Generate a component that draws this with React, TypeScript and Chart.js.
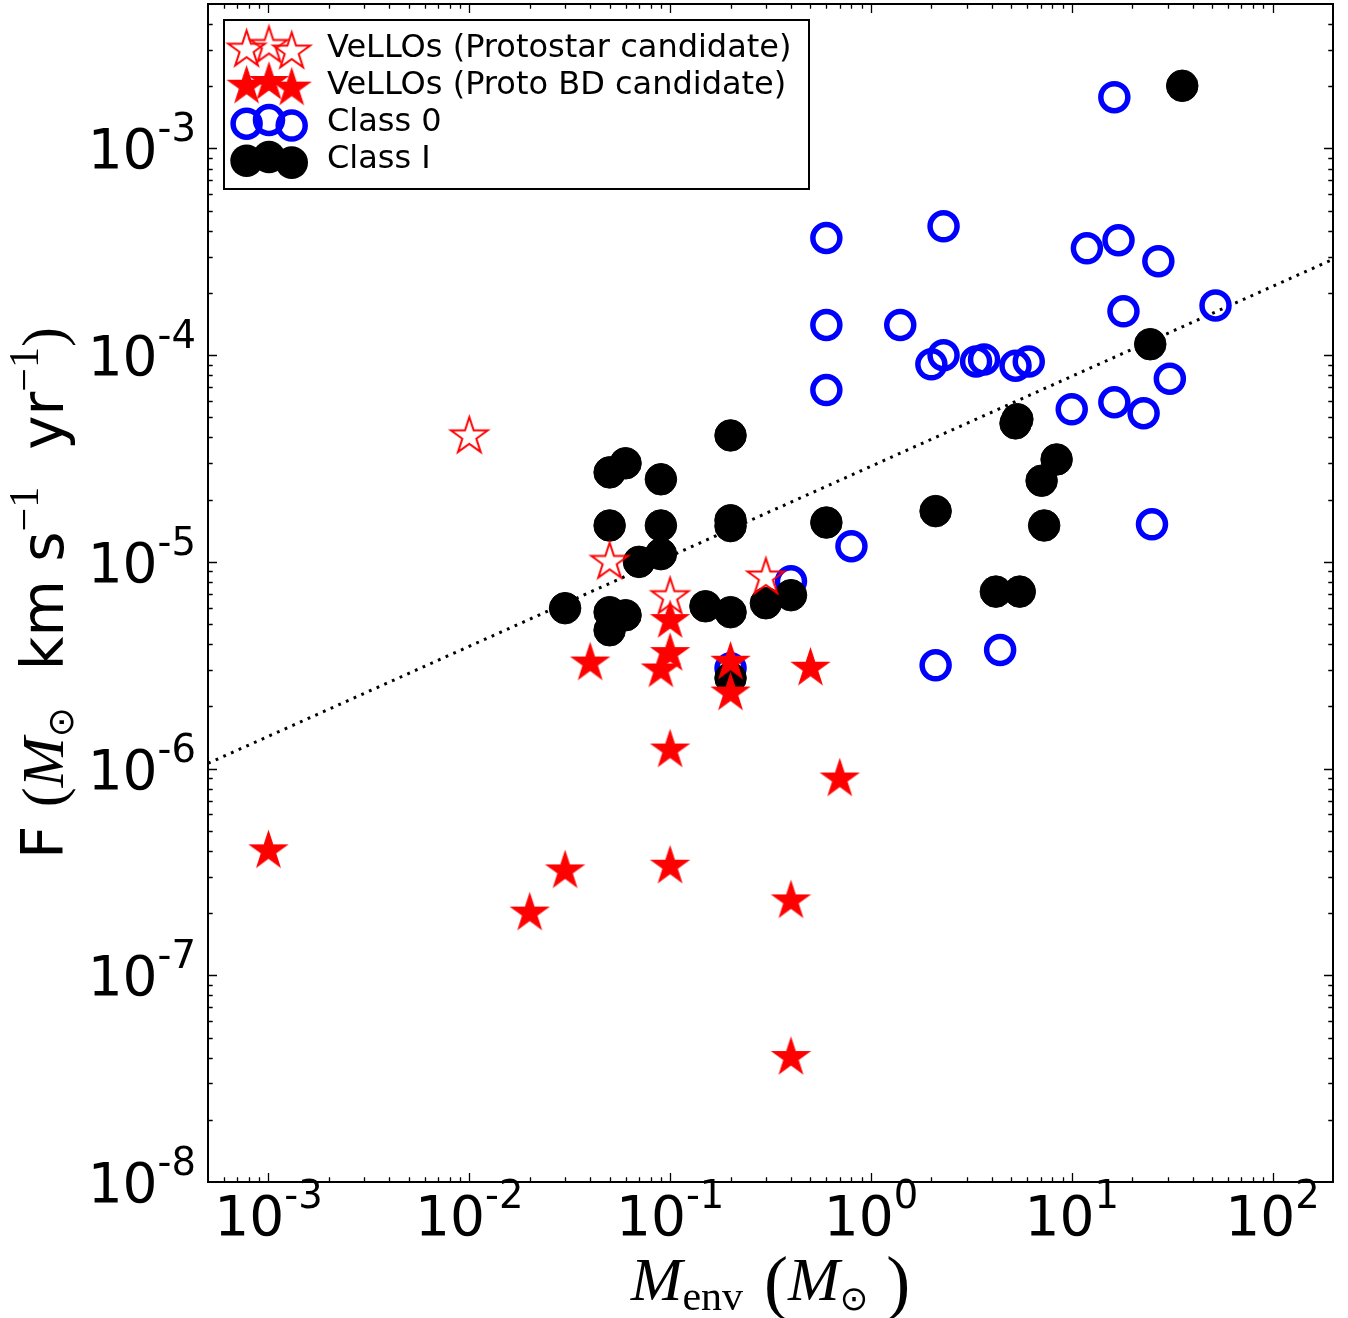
import React, { useEffect, useRef } from "react";
import { Chart, registerables } from "chart.js";

Chart.register(...registerables);

// axis limits
const X_MIN = 5e-4;
const X_MAX = 200;
const Y_MIN = 1e-8;
const Y_MAX = 5e-3;

const xTickExponents = [-3, -2, -1, 0, 1, 2];
const yTickExponents = [-8, -7, -6, -5, -4, -3];

const legendLabels = [
  "VeLLOs (Protostar candidate)",
  "VeLLOs (Proto BD candidate)",
  "Class 0",
  "Class I",
];

// VeLLOs (Protostar candidate)
const protostarM = [0.01, 0.05, 0.1, 0.3];
const protostarF = [4.05e-5, 1.0e-5, 6.75e-6, 8.4e-6];

// VeLLOs (Proto BD candidate)
const protoBDM = [0.001, 0.02, 0.03, 0.04, 0.1, 0.1, 0.09, 0.2, 0.2, 0.5, 0.1, 0.7, 0.1, 0.4, 0.4];
const protoBDF = [4.0e-7, 2.0e-7, 3.2e-7, 3.24e-6, 5.2e-6, 3.6e-6, 3.0e-6, 3.27e-6, 2.32e-6, 3.06e-6, 1.23e-6, 8.9e-7, 3.37e-7, 2.29e-7, 4.0e-8];

// Class 0
const class0M = [16.3, 0.6, 2.3, 11.9, 17.1, 27.0, 18.1, 52.0, 0.6, 1.4, 2.0, 2.3, 3.34, 3.66, 5.25, 6.11, 0.6, 30.8, 10.0, 16.3, 22.8, 0.8, 25.1, 0.4, 2.1, 4.4, 0.2];
const class0F = [1.77e-3, 3.69e-4, 4.2e-4, 3.29e-4, 3.6e-4, 2.85e-4, 1.63e-4, 1.74e-4, 1.4e-4, 1.4e-4, 9.03e-5, 1.0e-4, 9.33e-5, 9.54e-5, 8.89e-5, 9.33e-5, 6.78e-5, 7.69e-5, 5.47e-5, 5.92e-5, 5.24e-5, 1.19e-5, 1.52e-5, 8.05e-6, 3.16e-6, 3.75e-6, 3.06e-6];

// Class I
const class1M = [35.5, 24.6, 5.36, 5.25, 8.41, 7.08, 7.29, 2.1, 0.6, 4.19, 5.51, 0.2, 0.2, 0.2, 0.05, 0.06, 0.09, 0.05, 0.09, 0.09, 0.07, 0.03, 0.05, 0.06, 0.05, 0.15, 0.2, 0.3, 0.4, 0.2];
const class1F = [2.01e-3, 1.13e-4, 4.9e-5, 4.68e-5, 3.13e-5, 2.47e-5, 1.5e-5, 1.76e-5, 1.55e-5, 7.18e-6, 7.18e-6, 4.09e-5, 1.59e-5, 1.49e-5, 2.71e-5, 3.0e-5, 2.51e-5, 1.5e-5, 1.5e-5, 1.09e-5, 1.0e-5, 5.97e-6, 5.71e-6, 5.52e-6, 4.67e-6, 6.1e-6, 5.71e-6, 6.31e-6, 6.9e-6, 2.74e-6];

// dotted relation line (end points at the axis limits)
const fitM = [5e-4, 200];
const fitF = [1.06e-6, 2.91e-4];

const toPoints = (xs: number[], ys: number[]) => xs.map((x, i) => ({ x, y: ys[i] }));

const STAR_R = 19.3;

function makeStar(R: number, fill: string | null, stroke: string, lw: number) {
  const size = Math.ceil(2 * R + lw * 2 + 6);
  const c = document.createElement("canvas");
  c.width = size;
  c.height = size;
  const ctx = c.getContext("2d")!;
  const cx = size / 2;
  const cy = size / 2;
  ctx.beginPath();
  for (let i = 0; i < 10; i++) {
    const r = i % 2 === 0 ? R : R * 0.381966;
    const a = -Math.PI / 2 + (i * Math.PI) / 5;
    const px = cx + r * Math.cos(a);
    const py = cy + r * Math.sin(a);
    if (i === 0) ctx.moveTo(px, py);
    else ctx.lineTo(px, py);
  }
  ctx.closePath();
  if (fill) {
    ctx.fillStyle = fill;
    ctx.fill();
  }
  ctx.lineJoin = "miter";
  ctx.strokeStyle = stroke;
  ctx.lineWidth = lw;
  ctx.stroke();
  return c;
}

type Piece = { t: string; f: string; dy: number };

function piecesWidth(ctx: CanvasRenderingContext2D, pieces: Piece[]) {
  let w = 0;
  for (const p of pieces) {
    ctx.font = p.f;
    w += ctx.measureText(p.t).width;
  }
  return w;
}

function drawPieces(ctx: CanvasRenderingContext2D, pieces: Piece[], x: number, y: number) {
  let cx = x;
  for (const p of pieces) {
    ctx.font = p.f;
    ctx.fillText(p.t, cx, y + p.dy);
    cx += ctx.measureText(p.t).width;
  }
}

const TICK_FONT = '55px "DejaVu Sans"';
const SUP_FONT = '38.5px "DejaVu Sans"';
const SUP_RAISE = -27;

function tickPieces(exp: number): Piece[] {
  return [
    { t: "10", f: TICK_FONT, dy: 0 },
    { t: String(exp), f: SUP_FONT, dy: SUP_RAISE },
  ];
}

const yTitle: Piece[] = [
  { t: "F ", f: '58px "DejaVu Sans"', dy: 0 },
  { t: "(", f: '60px "Liberation Serif"', dy: 0 },
  { t: "M", f: 'italic 60px "Liberation Serif"', dy: 0 },
  { t: "\u2299", f: '36px "DejaVu Sans"', dy: 10 },
  { t: "  km s", f: '58px "DejaVu Sans"', dy: 0 },
  { t: "\u22121", f: '42px "Liberation Serif"', dy: -25 },
  { t: "  yr", f: '58px "DejaVu Sans"', dy: 0 },
  { t: "\u22121", f: '42px "Liberation Serif"', dy: -25 },
  { t: ")", f: '60px "Liberation Serif"', dy: 0 },
];

const xTitle: Piece[] = [
  { t: "M", f: 'italic 62px "Liberation Serif"', dy: 0 },
  { t: "env", f: '42px "Liberation Serif"', dy: 10 },
  { t: "  ", f: '42px "Liberation Serif"', dy: 0 },
  { t: "(", f: '72px "Liberation Serif"', dy: 6 },
  { t: "M", f: 'italic 62px "Liberation Serif"', dy: 0 },
  { t: "\u2299", f: '34px "DejaVu Sans"', dy: 10 },
  { t: " )", f: '72px "Liberation Serif"', dy: 6 },
];

export default function App() {
  const canvasRef = useRef<HTMLCanvasElement | null>(null);

  useEffect(() => {
    const canvas = canvasRef.current;
    if (!canvas) return;

    const openStar = makeStar(STAR_R, null, "#ff0000", 2);
    const filledStar = makeStar(STAR_R, "#ff0000", "#ff0000", 1.2);

    const drawCircleMarker = (ctx: CanvasRenderingContext2D, x: number, y: number, filled: boolean) => {
      ctx.beginPath();
      if (filled) {
        ctx.arc(x, y, 16.3, 0, Math.PI * 2);
        ctx.fillStyle = "#000000";
        ctx.fill();
      } else {
        ctx.arc(x, y, 13.5, 0, Math.PI * 2);
        ctx.strokeStyle = "#0000ff";
        ctx.lineWidth = 5.5;
        ctx.stroke();
      }
    };

    const mplPlugin = {
      id: "mplAxes",
      afterDraw(chart: any) {
        const { ctx, chartArea: a, scales } = chart;
        const xs = scales.x;
        const ys = scales.y;
        ctx.save();

        // ticks (inward, all four sides)
        ctx.strokeStyle = "#000";
        ctx.lineWidth = 1.3;
        const majorLen = 9;
        const minorLen = 4.7;
        ctx.beginPath();
        for (let k = -4; k <= 2; k++) {
          for (let m = 1; m <= 9; m++) {
            const v = m * Math.pow(10, k);
            if (v <= X_MIN * 1.0001 || v >= X_MAX * 0.9999) continue;
            const px = Math.round(xs.getPixelForValue(v)) + 0.5;
            const len = m === 1 ? majorLen : minorLen;
            ctx.moveTo(px, a.bottom);
            ctx.lineTo(px, a.bottom - len);
            ctx.moveTo(px, a.top);
            ctx.lineTo(px, a.top + len);
          }
        }
        for (let k = -8; k <= -3; k++) {
          for (let m = 1; m <= 9; m++) {
            const v = m * Math.pow(10, k);
            if (v <= Y_MIN * 1.0001 || v >= Y_MAX * 0.9999) continue;
            const py = Math.round(ys.getPixelForValue(v)) + 0.5;
            const len = m === 1 ? majorLen : minorLen;
            ctx.moveTo(a.left, py);
            ctx.lineTo(a.left + len, py);
            ctx.moveTo(a.right, py);
            ctx.lineTo(a.right - len, py);
          }
        }
        ctx.stroke();

        // frame
        ctx.lineWidth = 2;
        ctx.strokeRect(a.left, a.top, a.right - a.left, a.bottom - a.top);

        // tick labels
        ctx.fillStyle = "#000";
        ctx.textBaseline = "alphabetic";
        ctx.textAlign = "left";
        for (const e of xTickExponents) {
          const px = xs.getPixelForValue(Math.pow(10, e));
          const p = tickPieces(e);
          const w = piecesWidth(ctx, p);
          drawPieces(ctx, p, px - w / 2, 1235);
        }
        for (const e of yTickExponents) {
          const py = ys.getPixelForValue(Math.pow(10, e));
          const p = tickPieces(e);
          const w = piecesWidth(ctx, p);
          drawPieces(ctx, p, 196 - w, py + 20);
        }

        // x title
        {
          const w = piecesWidth(ctx, xTitle);
          const cx = (a.left + a.right) / 2;
          drawPieces(ctx, xTitle, cx - w / 2, 1300);
        }
        // y title (rotated)
        {
          const w = piecesWidth(ctx, yTitle);
          const cy = (a.top + a.bottom) / 2;
          ctx.save();
          ctx.translate(63, cy);
          ctx.rotate(-Math.PI / 2);
          drawPieces(ctx, yTitle, -w / 2, 0);
          ctx.restore();
        }

        // legend
        const lx = 224;
        const ly = 20;
        const lw = 585;
        const lh = 169;
        ctx.fillStyle = "#ffffff";
        ctx.fillRect(lx, ly, lw, lh);
        ctx.lineWidth = 2;
        ctx.strokeStyle = "#000";
        ctx.strokeRect(lx, ly, lw, lh);
        const baselines = [57, 93.5, 131, 168];
        const mx = [246.6, 269, 291.7];
        const moff = [-7.3, -11, -5.4];
        for (let r = 0; r < 4; r++) {
          for (let j = 0; j < 3; j++) {
            const x = mx[j];
            const y = baselines[r] + moff[j];
            if (r === 0) ctx.drawImage(openStar, x - openStar.width / 2, y - openStar.height / 2);
            else if (r === 1) ctx.drawImage(filledStar, x - filledStar.width / 2, y - filledStar.height / 2);
            else drawCircleMarker(ctx, x, y, r === 3);
          }
          ctx.fillStyle = "#000";
          ctx.font = '32px "DejaVu Sans"';
          ctx.fillText(legendLabels[r], 327, baselines[r]);
        }
        ctx.restore();
      },
    };

    const chart = new Chart(canvas, {
      type: "scatter",
      data: {
        datasets: [
          {
            label: legendLabels[1],
            data: toPoints(protoBDM, protoBDF),
            pointStyle: filledStar as any,
            pointRadius: STAR_R,
          },
          {
            label: legendLabels[0],
            data: toPoints(protostarM, protostarF),
            pointStyle: openStar as any,
            pointRadius: STAR_R,
          },
          {
            label: legendLabels[3],
            data: toPoints(class1M, class1F),
            pointStyle: "circle",
            pointRadius: 15.8,
            pointBackgroundColor: "#000000",
            pointBorderColor: "#000000",
            pointBorderWidth: 1,
          },
          {
            label: legendLabels[2],
            data: toPoints(class0M, class0F),
            pointStyle: "circle",
            pointRadius: 13.5,
            pointBackgroundColor: "rgba(0,0,0,0)",
            pointBorderColor: "#0000ff",
            pointBorderWidth: 5.5,
          },
          {
            label: "fit",
            data: toPoints(fitM, fitF),
            showLine: true,
            pointRadius: 0,
            borderColor: "#000000",
            borderWidth: 3,
            borderDash: [2.8, 5.6],
            fill: false,
          } as any,
        ],
      },
      options: {
        animation: false,
        responsive: false,
        maintainAspectRatio: false,
        devicePixelRatio: 1,
        layout: { autoPadding: false, padding: { left: 208, top: 4, right: 15, bottom: 136 } },
        plugins: {
          legend: { display: false },
          tooltip: { enabled: false },
        },
        events: [],
        scales: {
          x: { type: "logarithmic", min: X_MIN, max: X_MAX, bounds: "data", display: false },
          y: { type: "logarithmic", min: Y_MIN, max: Y_MAX, bounds: "data", display: false },
        },
      },
      plugins: [mplPlugin],
    });

    return () => {
      chart.destroy();
    };
  }, []);

  return (
    <div style={{ position: "fixed", left: 0, top: 0, width: 1348, height: 1318, background: "#ffffff" }}>
      <canvas ref={canvasRef} width={1348} height={1318} style={{ display: "block", width: 1348, height: 1318 }} />
    </div>
  );
}
